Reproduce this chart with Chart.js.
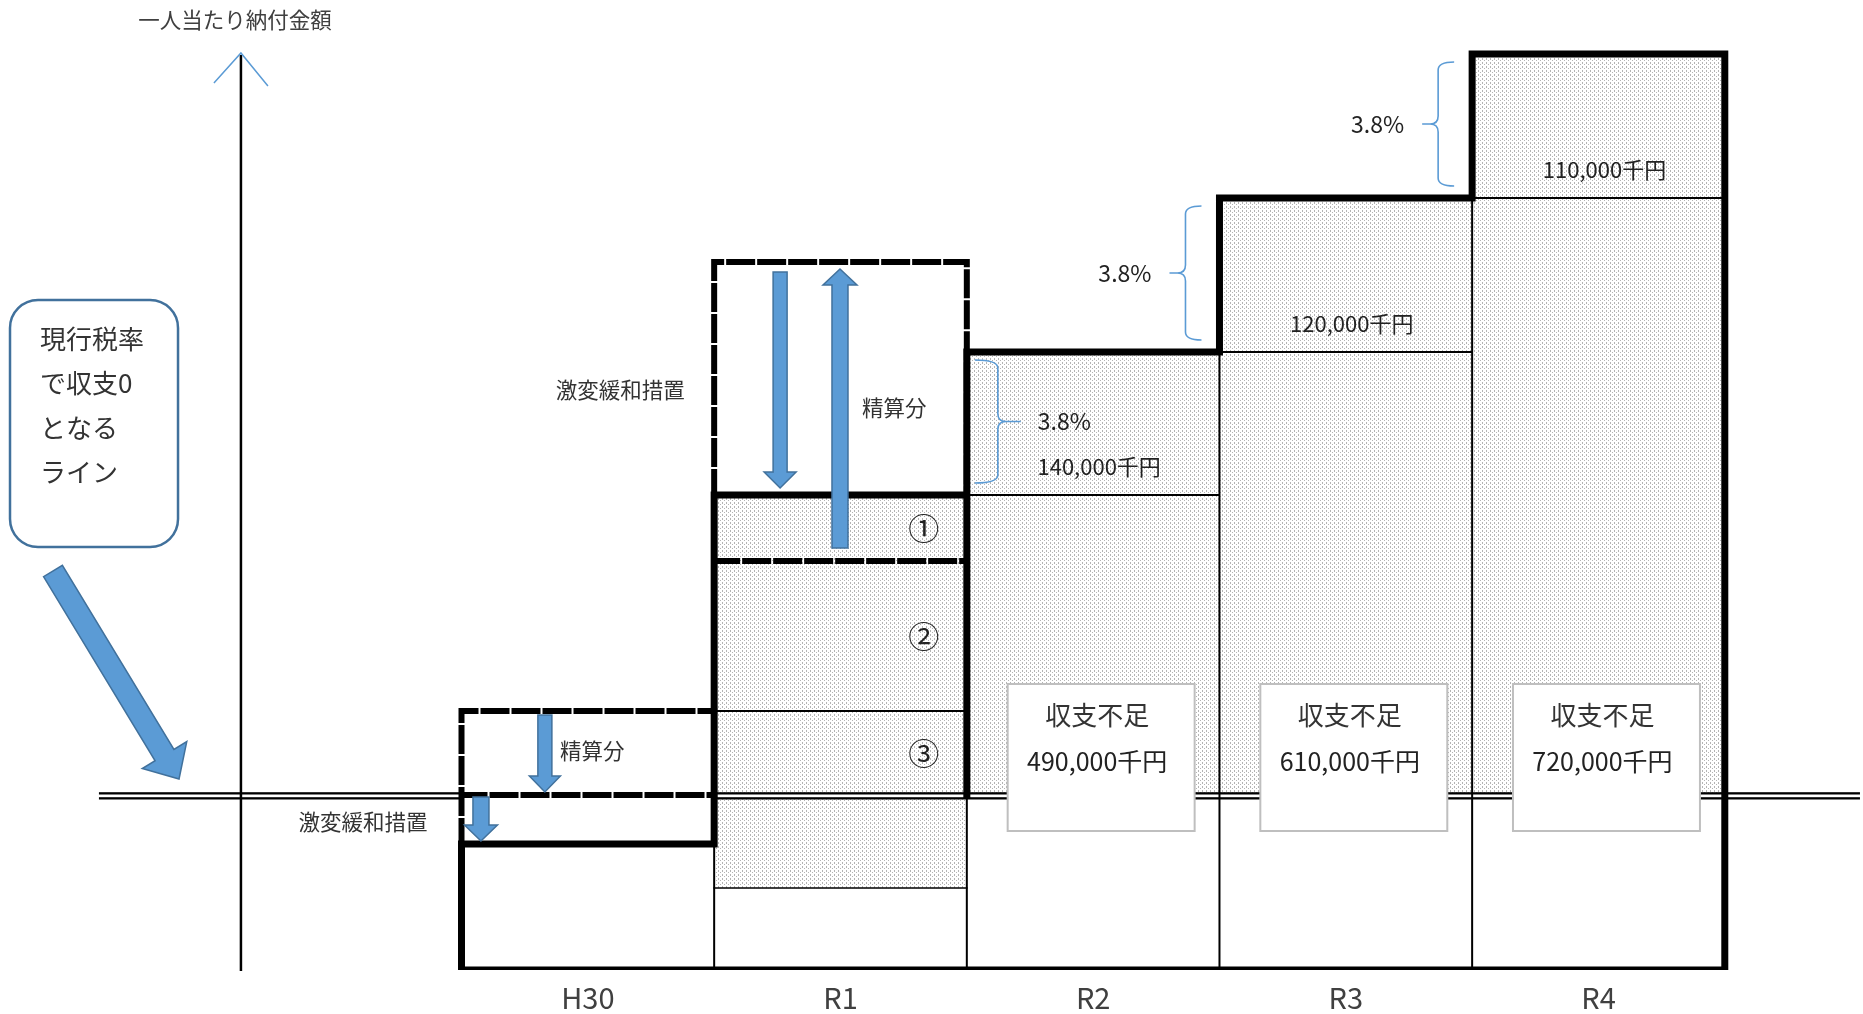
<!DOCTYPE html>
<html><head><meta charset="utf-8">
<script src="https://cdn.jsdelivr.net/npm/chart.js@4"></script>
<style>html,body{margin:0;padding:0;background:#fff;overflow:hidden}</style>
</head><body>
<canvas id="c" width="1863" height="1014"></canvas>
<script>
// ---------------- data ----------------
const years = ['H30', 'R1', 'R2', 'R3', 'R4'];
// 一人当たり納付金額の水準（相対値、収支0ライン = 0）
const paymentLevel = [-49, 300, 443, 597, 741];
// 前年度水準（3.8%引上げ前）
const priorLevel = [null, null, 300, 443, 597];
const rateIncrease = [null, null, '3.8%', '3.8%', '3.8%'];
const increaseAmount = [null, null, '140,000千円', '120,000千円', '110,000千円'];
const deficitLabel = [null, null, '収支不足', '収支不足', '収支不足'];
const deficitAmount = [null, null, '490,000千円', '610,000千円', '720,000千円'];
// 網掛け部分の下端
const shadeBottom = [null, -93, 0, 0, 0];
const baseLevel = -175;
// 激変緩和措置（点線枠）の上端
const mitigationTop = [84, 533, null, null, null];
// R1 の内訳（①②③ の境界）
const r1Breakdown = [300, 234, 84, 0];
const r1Marks = ['①', '②', '③'];
const lineBoxText = ['現行税率', 'で収支0', 'となる', 'ライン'];
const axisTitle = '一人当たり納付金額';

// ---------------- build datasets ----------------
const shadeData = years.map((y, i) => shadeBottom[i] == null ? null : { x: i + 0.5, y: [shadeBottom[i], paymentLevel[i]] }).filter(Boolean);

const thick = [{ x: 0, y: baseLevel }];
paymentLevel.forEach((v, i) => { thick.push({ x: i, y: v }); thick.push({ x: i + 1, y: v }); });
thick.push({ x: years.length, y: baseLevel });
thick.push({ x: 0, y: baseLevel });
thick.push({ x: 2, y: null });
thick.push({ x: 2, y: 0 }, { x: 2, y: paymentLevel[1] });

const thin = [];
for (let i = 1; i < years.length; i++) {
  thin.push({ x: i, y: baseLevel }, { x: i, y: Math.min(paymentLevel[i - 1], paymentLevel[i]) }, { x: i, y: null });
}
priorLevel.forEach((v, i) => { if (v != null) thin.push({ x: i, y: v }, { x: i + 1, y: v }, { x: i, y: null }); });
thin.push({ x: 1, y: r1Breakdown[2] }, { x: 2, y: r1Breakdown[2] });

const dashed = [
  { x: 0, y: paymentLevel[0] }, { x: 0, y: mitigationTop[0] }, { x: 1, y: mitigationTop[0] }, { x: 1, y: null },
  { x: 0, y: 0 }, { x: 1, y: 0 }, { x: 1, y: null },
  { x: 1, y: paymentLevel[1] }, { x: 1, y: mitigationTop[1] }, { x: 2, y: mitigationTop[1] }, { x: 2, y: paymentLevel[1] }, { x: 2, y: null },
  { x: 1, y: r1Breakdown[1] }, { x: 2, y: r1Breakdown[1] }
];
const dotted = [{ x: 1, y: shadeBottom[1] }, { x: 2, y: shadeBottom[1] }];

// ---------------- styles ----------------
const FONT = '"Noto Sans CJK JP", "Noto Sans", sans-serif';
const TXT = '#262626';
const BLUE = '#5b9bd5', BLUE_D = '#41719c';
const canvas = document.getElementById('c');
const mainCtx = canvas.getContext('2d');
function makePattern() {
  const c = document.createElement('canvas'); c.width = 4; c.height = 4;
  const g = c.getContext('2d');
  g.fillStyle = '#ffffff'; g.fillRect(0, 0, 4, 4);
  g.fillStyle = '#b4b4b4';
  g.fillRect(0, 0, 1, 1); g.fillRect(2, 2, 1, 1); g.fillRect(2, 3, 1, 1);
  return mainCtx.createPattern(c, 'repeat');
}

function lineDs(label, data, width, order, dash) {
  return { type: 'line', label, data, borderColor: '#000', borderWidth: width, pointRadius: 0, fill: false,
    spanGaps: false, tension: 0, borderJoinStyle: 'miter', borderCapStyle: 'square', borderDash: dash || [], order };
}

// ---------------- decoration plugin ----------------
function arrow(ctx, x1, y1, x2, y2, shaft, head, headLen) {
  const dx = x2 - x1, dy = y2 - y1, L = Math.hypot(dx, dy);
  const ux = dx / L, uy = dy / L, nx = -uy, ny = ux;
  const bx = x2 - ux * headLen, by = y2 - uy * headLen;
  const pts = [
    [x1 + nx * shaft / 2, y1 + ny * shaft / 2], [bx + nx * shaft / 2, by + ny * shaft / 2],
    [bx + nx * head / 2, by + ny * head / 2], [x2, y2], [bx - nx * head / 2, by - ny * head / 2],
    [bx - nx * shaft / 2, by - ny * shaft / 2], [x1 - nx * shaft / 2, y1 - ny * shaft / 2]];
  ctx.beginPath();
  pts.forEach((p, i) => i ? ctx.lineTo(p[0], p[1]) : ctx.moveTo(p[0], p[1]));
  ctx.closePath();
  ctx.fillStyle = BLUE; ctx.fill();
  ctx.strokeStyle = BLUE_D; ctx.lineWidth = 1.5; ctx.stroke();
}
function brace(ctx, endX, vx, tipX, top, bot) {
  const mid = (top + bot) / 2, r = 8, s = Math.sign(tipX - vx);
  ctx.beginPath();
  ctx.moveTo(endX, top);
  ctx.quadraticCurveTo(vx, top, vx, top + r);
  ctx.lineTo(vx, mid - r);
  ctx.quadraticCurveTo(vx, mid, vx + s * r, mid);
  ctx.lineTo(tipX, mid);
  ctx.moveTo(vx + s * r, mid);
  ctx.quadraticCurveTo(vx, mid, vx, mid + r);
  ctx.lineTo(vx, bot - r);
  ctx.quadraticCurveTo(vx, bot, endX, bot);
  ctx.strokeStyle = BLUE; ctx.lineWidth = 1.6; ctx.stroke();
}
function text(ctx, s, x, y, size, align, color) {
  ctx.font = size + 'px ' + FONT;
  ctx.textAlign = align || 'center';
  ctx.textBaseline = 'middle';
  ctx.fillStyle = color || TXT;
  ctx.fillText(s, x, y);
}

const deco = {
  id: 'deco',
  afterDatasetDraw(chart, args) {
    if (chart.data.datasets[args.index].label !== 'shade') return;
    const { ctx } = chart, xs = chart.scales.x, ys = chart.scales.y;
    const y0 = ys.getPixelForValue(0);
    ctx.save();
    for (const [a, b] of [[-1.435, 0], [1, 5.535]]) {
      const xa = xs.getPixelForValue(a), xb = xs.getPixelForValue(b);
      ctx.fillStyle = '#fff'; ctx.fillRect(xa, y0 - 1, xb - xa, 3.5);
      ctx.fillStyle = '#000';
      ctx.fillRect(xa, y0 - 2.8, xb - xa, 2.3);
      ctx.fillRect(xa, y0 + 2.2, xb - xa, 2.3);
    }
    ctx.restore();
  },
  afterDatasetsDraw(chart) {
    const { ctx } = chart, xs = chart.scales.x, ys = chart.scales.y;
    const X = v => xs.getPixelForValue(v), Y = v => ys.getPixelForValue(v);
    const colW = X(1) - X(0);
    ctx.save();

    // 縦軸（概念）
    const ax = X(-0.873);
    ctx.strokeStyle = '#000'; ctx.lineWidth = 2.5;
    ctx.beginPath(); ctx.moveTo(ax, Y(740)); ctx.lineTo(ax, Y(baseLevel - 1)); ctx.stroke();
    ctx.strokeStyle = BLUE; ctx.lineWidth = 1.5;
    ctx.beginPath(); ctx.moveTo(ax - 27, Y(712)); ctx.lineTo(ax, Y(742)); ctx.lineTo(ax + 27, Y(709)); ctx.stroke();
    text(ctx, axisTitle, ax - 6, Y(775), 21.5, 'center', '#404040');

    // 左の角丸ボックス
    const bx0 = X(-1.787), bx1 = X(-1.122), by0 = Y(495), by1 = Y(248), rr = 28;
    ctx.beginPath();
    ctx.roundRect(bx0, by0, bx1 - bx0, by1 - by0, rr);
    ctx.fillStyle = '#fff'; ctx.fill();
    ctx.strokeStyle = BLUE_D; ctx.lineWidth = 2.5; ctx.stroke();
    lineBoxText.forEach((s, i) => text(ctx, s, X(-1.668), Y(456) + i * 44.5, 26, 'left', '#333'));
    arrow(ctx, X(-1.617), Y(224), X(-1.118), Y(16), 22, 52, 28);

    // H30 周り
    arrow(ctx, X(0.077), Y(-2), X(0.077), Y(-46), 16, 33, 16);
    arrow(ctx, X(0.33), Y(80), X(0.33), Y(3), 14, 31, 16);
    text(ctx, '精算分', X(0.39), Y(44), 21.5, 'left', '#333');
    text(ctx, '激変緩和措置', X(-0.39), Y(-27), 21.5, 'center', '#333');

    // R1 周り
    arrow(ctx, X(1.261), Y(mitigationTop[1] - 10), X(1.261), Y(paymentLevel[1] + 7), 14, 32, 16);
    arrow(ctx, X(1.498), Y(247), X(1.498), Y(mitigationTop[1] - 7), 16, 34, 16);
    text(ctx, '精算分', X(1.585), Y(387), 21.5, 'left', '#333');
    text(ctx, '激変緩和措置', X(0.628), Y(405), 21.5, 'center', '#333');
    r1Marks.forEach((m, k) => text(ctx, m, X(1.83), Y((r1Breakdown[k] + r1Breakdown[k + 1]) / 2), 31, 'center', '#222'));

    // R2〜R4 の引上げ幅・金額・収支不足
    years.forEach((yr, i) => {
      if (priorLevel[i] == null) return;
      const left = X(i), top = Y(paymentLevel[i]) + 8, bot = Y(priorLevel[i]) - 12;
      const mid = (top + bot) / 2;
      if (i === 2) {
        brace(ctx, left + 8, left + 31, left + 54, top, bot);
        text(ctx, rateIncrease[i], left + 71, mid, 23, 'left', '#222');
      } else {
        brace(ctx, left - 18, left - 34, left - 50, top, bot);
        text(ctx, rateIncrease[i], left - 68, mid, 23, 'right', '#222');
      }
      text(ctx, increaseAmount[i], X(i + 0.5) + 6, Y(priorLevel[i]) - 28, 22, 'center', '#222');

      const cx = X(i + 0.5) + 8, w = colW * 0.74;
      const t = Y(111), b = Y(-36);
      ctx.fillStyle = '#fff'; ctx.fillRect(cx - w / 2, t, w, b - t);
      ctx.strokeStyle = '#bfbfbf'; ctx.lineWidth = 2; ctx.strokeRect(cx - w / 2, t, w, b - t);
      text(ctx, deficitLabel[i], cx - 4, t + 31, 26, 'center', '#333');
      text(ctx, deficitAmount[i], cx - 4, t + 77, 25, 'center', '#222');
    });
    ctx.restore();
  }
};

// ---------------- chart ----------------
new Chart(canvas, {
  type: 'bar',
  data: {
    datasets: [
      { type: 'bar', label: 'shade', data: shadeData, backgroundColor: makePattern(), borderWidth: 0,
        barPercentage: 1, categoryPercentage: 1, grouped: false, order: 10 },
      lineDs('thin', thin, 2, 8),
      lineDs('dotted', dotted, 1.5, 8, [1.5, 1.5]),
      lineDs('outline', thick, 7, 5),
      lineDs('mitigation', dashed, 6, 4, [23, 8])
    ]
  },
  options: {
    responsive: false,
    animation: false,
    layout: { padding: 0 },
    plugins: { legend: { display: false }, tooltip: { enabled: false } },
    scales: {
      x: {
        type: 'linear', min: -1.8266, max: 5.547, offset: false,
        grid: { display: false, drawTicks: false }, border: { display: false },
        afterBuildTicks: s => { s.ticks = years.map((_, i) => ({ value: i + 0.5 })); },
        afterFit: s => { s.height = 44; },
        ticks: { autoSkip: false, maxRotation: 0, padding: 11, color: '#404040',
          font: { family: FONT, size: 29 }, callback: (v, i) => years[i] }
      },
      y: { type: 'linear', min: baseLevel, max: 795, display: false }
    }
  },
  plugins: [deco]
});
</script>
</body></html>
